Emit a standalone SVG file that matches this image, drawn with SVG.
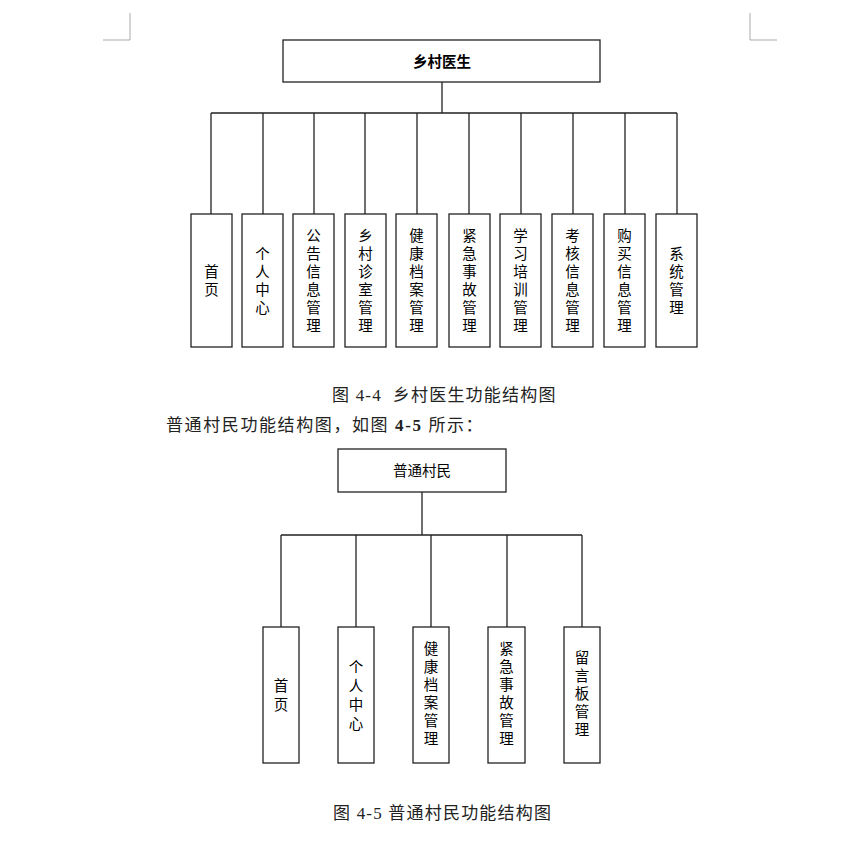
<svg xmlns="http://www.w3.org/2000/svg" width="853" height="848" viewBox="0 0 853 848">
<style>
.b{fill:#fff;stroke:#222;stroke-width:1.3}
.c{fill:none;stroke:#222;stroke-width:1.3}
.t{font-family:"Noto Sans CJK SC",sans-serif;font-size:14.5px;fill:#000;text-anchor:middle}
.cap{font-family:"Liberation Serif","Noto Sans CJK SC",serif;font-size:17px;fill:#222;letter-spacing:1.2px}
.m{fill:none;stroke:#aaa;stroke-width:1}
</style>
<rect width="853" height="848" fill="#fff"/>
<path class="m" d="M130 13V40H103M750 13V40H777"/>
<g id="connectors">
<path class="c" d="M442 82V113M211 113H677M211 113V214M263 113V214M314 113V214M365 113V214M417 113V214M469 113V214M521 113V214M573 113V214M625 113V214M677 113V214"/>
<path class="c" d="M422 492V535M281 535H582M281 535V627M356 535V627M431 535V627M507 535V627M582 535V627"/>
</g>
<g id="root1"><rect class="b" x="283" y="40" width="317" height="42"/><text class="t" x="442" y="67" font-weight="bold" font-size="16">乡村医生</text></g>
<g id="n1"><rect class="b" x="191" y="214" width="41" height="133"/><text class="t" x="211.5" y="277">首</text><text class="t" x="211.5" y="295">页</text></g>
<g id="n2"><rect class="b" x="242" y="214" width="41" height="133"/><text class="t" x="262.5" y="259">个</text><text class="t" x="262.5" y="277">人</text><text class="t" x="262.5" y="295">中</text><text class="t" x="262.5" y="313">心</text></g>
<g id="n3"><rect class="b" x="293" y="214" width="41" height="133"/><text class="t" x="313.5" y="241">公</text><text class="t" x="313.5" y="259">告</text><text class="t" x="313.5" y="277">信</text><text class="t" x="313.5" y="295">息</text><text class="t" x="313.5" y="313">管</text><text class="t" x="313.5" y="331">理</text></g>
<g id="n4"><rect class="b" x="345" y="214" width="41" height="133"/><text class="t" x="365.5" y="241">乡</text><text class="t" x="365.5" y="259">村</text><text class="t" x="365.5" y="277">诊</text><text class="t" x="365.5" y="295">室</text><text class="t" x="365.5" y="313">管</text><text class="t" x="365.5" y="331">理</text></g>
<g id="n5"><rect class="b" x="396" y="214" width="41" height="133"/><text class="t" x="416.5" y="241">健</text><text class="t" x="416.5" y="259">康</text><text class="t" x="416.5" y="277">档</text><text class="t" x="416.5" y="295">案</text><text class="t" x="416.5" y="313">管</text><text class="t" x="416.5" y="331">理</text></g>
<g id="n6"><rect class="b" x="449" y="214" width="41" height="133"/><text class="t" x="469.5" y="241">紧</text><text class="t" x="469.5" y="259">急</text><text class="t" x="469.5" y="277">事</text><text class="t" x="469.5" y="295">故</text><text class="t" x="469.5" y="313">管</text><text class="t" x="469.5" y="331">理</text></g>
<g id="n7"><rect class="b" x="500" y="214" width="41" height="133"/><text class="t" x="520.5" y="241">学</text><text class="t" x="520.5" y="259">习</text><text class="t" x="520.5" y="277">培</text><text class="t" x="520.5" y="295">训</text><text class="t" x="520.5" y="313">管</text><text class="t" x="520.5" y="331">理</text></g>
<g id="n8"><rect class="b" x="552" y="214" width="41" height="133"/><text class="t" x="572.5" y="241">考</text><text class="t" x="572.5" y="259">核</text><text class="t" x="572.5" y="277">信</text><text class="t" x="572.5" y="295">息</text><text class="t" x="572.5" y="313">管</text><text class="t" x="572.5" y="331">理</text></g>
<g id="n9"><rect class="b" x="604" y="214" width="41" height="133"/><text class="t" x="624.5" y="241">购</text><text class="t" x="624.5" y="259">买</text><text class="t" x="624.5" y="277">信</text><text class="t" x="624.5" y="295">息</text><text class="t" x="624.5" y="313">管</text><text class="t" x="624.5" y="331">理</text></g>
<g id="n10"><rect class="b" x="656" y="214" width="41" height="133"/><text class="t" x="676.5" y="259">系</text><text class="t" x="676.5" y="277">统</text><text class="t" x="676.5" y="295">管</text><text class="t" x="676.5" y="313">理</text></g>
<text class="cap" x="332" y="401" xml:space="preserve">图 4-4  乡村医生功能结构图</text>
<text class="cap" x="166" y="431" style="letter-spacing:1.6px">普通村民功能结构图，如图 <tspan font-weight="bold">4-5</tspan> 所示：</text>
<g id="root2"><rect class="b" x="338" y="449" width="168" height="43"/><text class="t" x="422" y="476">普通村民</text></g>
<g id="m1"><rect class="b" x="263" y="627" width="36" height="136"/><text class="t" x="281" y="691">首</text><text class="t" x="281" y="710">页</text></g>
<g id="m2"><rect class="b" x="338" y="627" width="36" height="136"/><text class="t" x="356" y="672">个</text><text class="t" x="356" y="691">人</text><text class="t" x="356" y="710">中</text><text class="t" x="356" y="729">心</text></g>
<g id="m3"><rect class="b" x="413" y="627" width="36" height="136"/><text class="t" x="431" y="654">健</text><text class="t" x="431" y="672">康</text><text class="t" x="431" y="690">档</text><text class="t" x="431" y="708">案</text><text class="t" x="431" y="726">管</text><text class="t" x="431" y="744">理</text></g>
<g id="m4"><rect class="b" x="488" y="627" width="37" height="136"/><text class="t" x="506.5" y="654">紧</text><text class="t" x="506.5" y="672">急</text><text class="t" x="506.5" y="690">事</text><text class="t" x="506.5" y="708">故</text><text class="t" x="506.5" y="726">管</text><text class="t" x="506.5" y="744">理</text></g>
<g id="m5"><rect class="b" x="564" y="627" width="36" height="136"/><text class="t" x="582" y="663">留</text><text class="t" x="582" y="681">言</text><text class="t" x="582" y="699">板</text><text class="t" x="582" y="717">管</text><text class="t" x="582" y="735">理</text></g>
<text class="cap" x="333" y="819">图 4-5 普通村民功能结构图</text>
</svg>
